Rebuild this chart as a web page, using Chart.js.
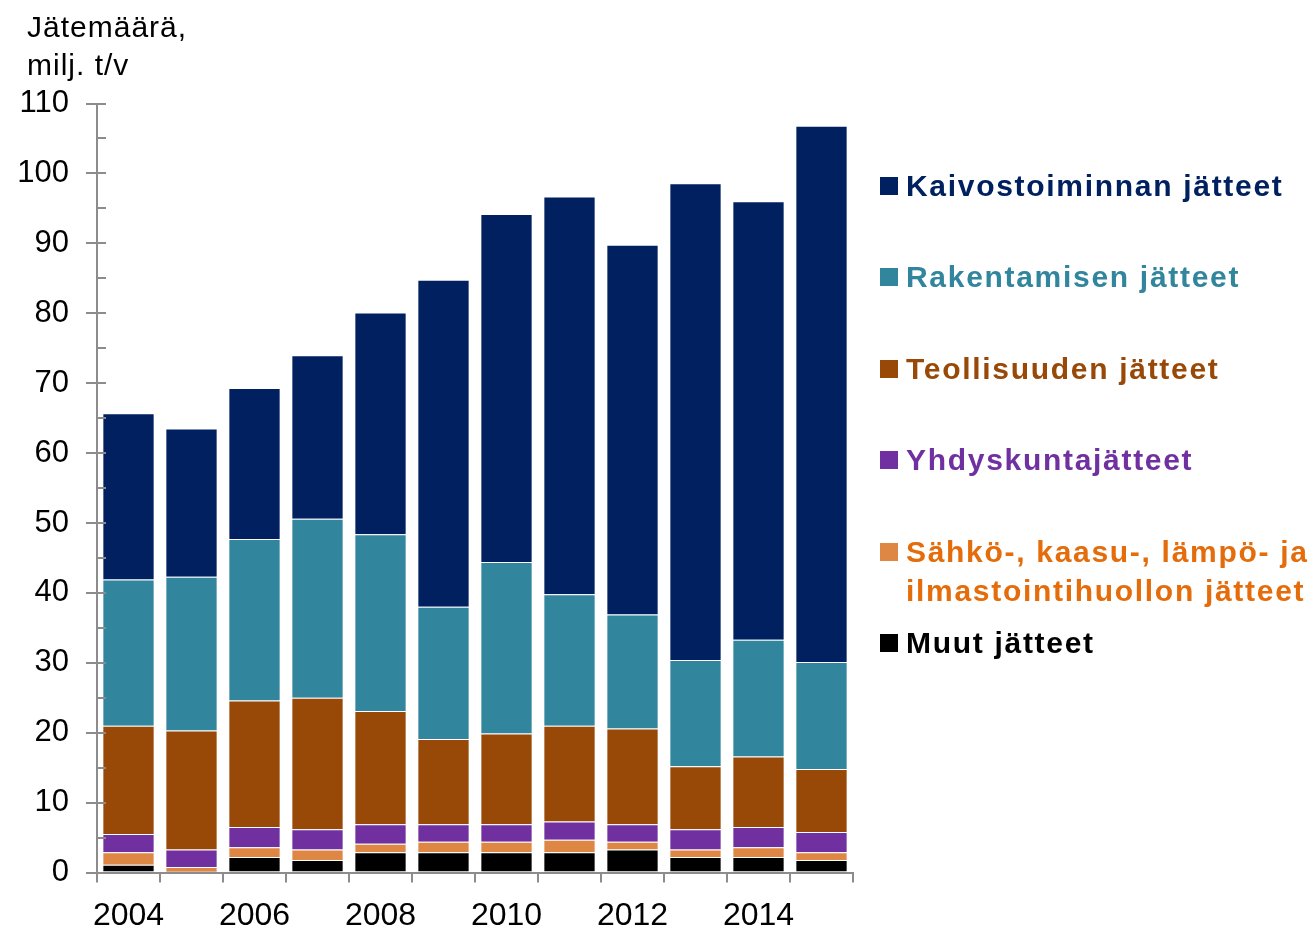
<!DOCTYPE html>
<html>
<head>
<meta charset='utf-8'>
<script src='https://cdn.jsdelivr.net/npm/chart.js@4.4.1/dist/chart.umd.min.js'></script>
<style>
  body { margin: 0; background: #fff; }
  .wrap { position: relative; width: 1314px; height: 930px; font-family: 'Liberation Sans', Arial, sans-serif; }
  .axis-title { position: absolute; left: 27px; top: 8px; font-size: 30px; line-height: 38px; color: #000; letter-spacing: 1px; }
  .legend { position: absolute; left: 880px; top: 0; }
  .legend-item { position: absolute; left: 0; white-space: pre; font-weight: bold; font-size: 30px; line-height: 39px; letter-spacing: 1.7px; }
  .legend-item .box { position: absolute; left: 0; top: 11px; width: 18px; height: 18px; }
  .legend-item .text { position: absolute; left: 26px; top: 0; }
</style>
</head>
<body>
<div class='wrap'>
  <canvas id='chart' width='1314' height='930'></canvas>
  <div class='axis-title'>Jätemäärä,<br>milj. t/v</div>
  <div class='legend' id='legend'></div>
</div>
<script>
const years = ['2004', '2005', '2006', '2007', '2008', '2009', '2010', '2011', '2012', '2013', '2014', '2015']

// bottom to top in the stack
const seriesNames = [
  'Muut jätteet',
  'Sähkö-, kaasu-, lämpö- ja\nilmastointihuollon jätteet',
  'Yhdyskuntajätteet',
  'Teollisuuden jätteet',
  'Rakentamisen jätteet',
  'Kaivostoiminnan jätteet',
]

const muut = [1.1, 0.1, 2.2, 1.8, 2.9, 2.9, 2.9, 2.9, 3.3, 2.2, 2.2, 1.8]
const sahko = [1.8, 0.7, 1.4, 1.5, 1.2, 1.5, 1.5, 1.8, 1.1, 1.1, 1.4, 1.1]
const yhdyskunta = [2.6, 2.5, 2.9, 2.9, 2.8, 2.5, 2.5, 2.6, 2.5, 2.9, 2.9, 2.9]
const teollisuus = [15.5, 17.0, 18.1, 18.8, 16.2, 12.2, 13.0, 13.7, 13.7, 9.0, 10.1, 9.0]
const rakentaminen = [20.9, 22.0, 23.1, 25.6, 25.3, 18.9, 24.5, 18.8, 16.3, 15.2, 16.7, 15.3]
const kaivos = [23.8, 21.2, 21.6, 23.4, 31.7, 46.8, 49.8, 56.9, 52.9, 68.2, 62.7, 76.7]

const barColors = ['#000000', '#DE8744', '#7030A0', '#984807', '#31859C', '#002060']
const textColors = ['#000000', '#E46C0A', '#7030A0', '#984807', '#31859C', '#002060']

const yMax = 110
const yStep = 5

const grey = '#8c8c8c'

const seriesValues = [muut, sahko, yhdyskunta, teollisuus, rakentaminen, kaivos]

const datasets = seriesValues.map((values, index) => ({
  label: seriesNames[index].replace('\n', ' '),
  data: values,
  backgroundColor: barColors[index],
  borderColor: 'rgba(255, 255, 255, 0.22)',
  borderWidth: 1,
  borderSkipped: 'start',
  barPercentage: 0.83,
  categoryPercentage: 1,
}))

// small inside ticks on the y axis, every 5 units
const innerTicks = {
  id: 'innerTicks',
  afterDraw: (chart) => {
    const { ctx, chartArea, scales } = chart
    ctx.save()
    ctx.strokeStyle = grey
    ctx.lineWidth = 2
    for (let v = 0; v <= yMax; v += yStep) {
      const y = Math.round(scales.y.getPixelForValue(v))
      ctx.beginPath()
      ctx.moveTo(chartArea.left, y)
      ctx.lineTo(chartArea.left + 9, y)
      ctx.stroke()
    }
    ctx.restore()
  },
}

new Chart(document.getElementById('chart').getContext('2d'), {
  type: 'bar',
  data: { labels: years, datasets },
  options: {
    responsive: false,
    animation: false,
    devicePixelRatio: 1,
    layout: { padding: { left: 0, right: 461, top: 103.5, bottom: 0 } },
    plugins: {
      legend: { display: false },
      tooltip: { enabled: false },
    },
    scales: {
      x: {
        stacked: true,
        offset: true,
        grid: {
          offset: true,
          drawOnChartArea: false,
          tickLength: 10,
          color: grey,
          lineWidth: 2,
        },
        border: { color: grey, width: 2 },
        ticks: {
          autoSkip: false,
          maxRotation: 0,
          padding: 14,
          color: '#000',
          font: { family: "'Liberation Sans', Arial", size: 32 },
          callback: (value, index) => (index % 2 === 0 ? years[index] : ''),
        },
        afterFit: (scale) => {
          scale.height = 57.5
        },
      },
      y: {
        stacked: true,
        min: 0,
        max: yMax,
        grid: {
          drawOnChartArea: false,
          tickLength: 11,
          lineWidth: 2,
          color: (ctx) => (ctx.tick && ctx.tick.value % 10 === 0 ? grey : 'rgba(0,0,0,0)'),
        },
        border: { color: grey, width: 2 },
        ticks: {
          stepSize: yStep,
          padding: 17,
          color: '#000',
          font: { family: "'Liberation Sans', Arial", size: 31 },
          callback: (value) => (value % 10 === 0 ? value : ''),
        },
        afterFit: (scale) => {
          scale.width = 97
        },
      },
    },
  },
  plugins: [innerTicks],
})

// legend, top entry first
const legend = document.getElementById('legend')
const legendTop = 166
const legendGap = 91.4
seriesNames
  .map((name, index) => ({ name, index }))
  .reverse()
  .forEach(({ name, index }, row) => {
    const item = document.createElement('div')
    item.className = 'legend-item'
    item.style.top = legendTop + row * legendGap + 'px'
    item.style.color = textColors[index]
    const box = document.createElement('div')
    box.className = 'box'
    box.style.background = barColors[index]
    const text = document.createElement('div')
    text.className = 'text'
    text.textContent = name
    item.appendChild(box)
    item.appendChild(text)
    legend.appendChild(item)
  })
</script>
</body>
</html>
